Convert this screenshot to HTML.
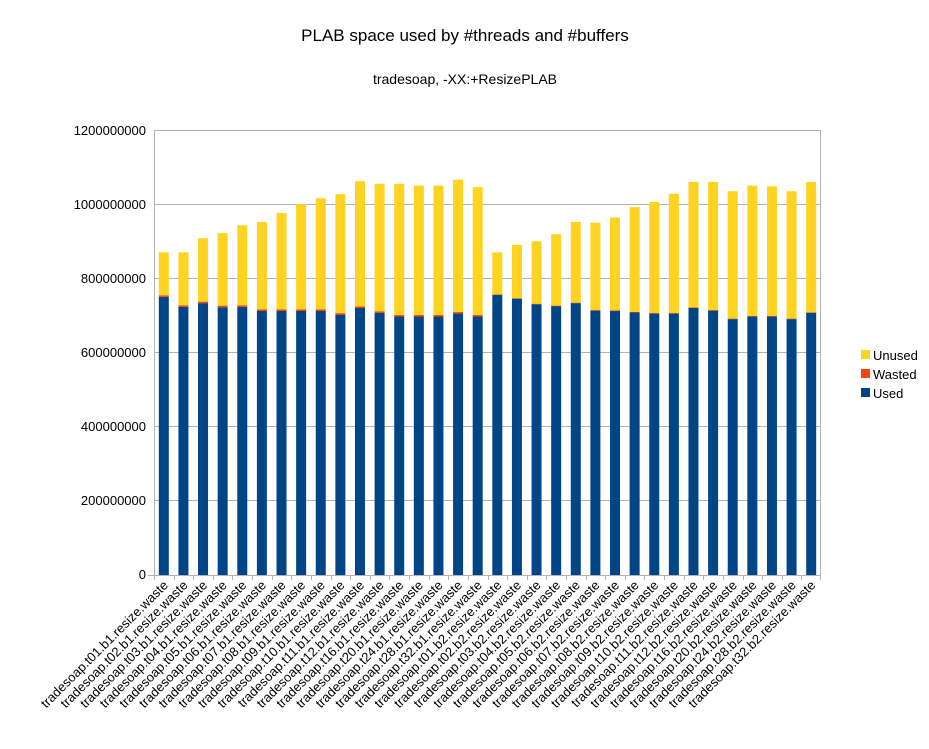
<!DOCTYPE html>
<html><head><meta charset="utf-8"><style>body{margin:0;background:#fff}svg{display:block}text{font-family:"Liberation Sans",sans-serif}</style></head>
<body>
<svg id="s" width="929" height="749" viewBox="0 0 929 749" xmlns="http://www.w3.org/2000/svg">
<rect width="929" height="749" fill="#fff"/>
<text x="465" y="41" font-size="17" text-anchor="middle">PLAB space used by #threads and #buffers</text>
<text x="465" y="84" font-size="14" text-anchor="middle">tradesoap, -XX:+ResizePLAB</text>
<g stroke="#b3b3b3" stroke-width="1">
<line x1="154" y1="130.5" x2="821" y2="130.5"/>
<line x1="154" y1="204.5" x2="821" y2="204.5"/>
<line x1="154" y1="278.5" x2="821" y2="278.5"/>
<line x1="154" y1="352.5" x2="821" y2="352.5"/>
<line x1="154" y1="426.5" x2="821" y2="426.5"/>
<line x1="154" y1="500.5" x2="821" y2="500.5"/>
<line x1="154.5" y1="130" x2="154.5" y2="575"/>
<line x1="820.5" y1="130" x2="820.5" y2="575"/>
</g>
<g font-size="13" text-anchor="end">
<text x="146" y="135">1200000000</text>
<text x="146" y="209">1000000000</text>
<text x="146" y="283">800000000</text>
<text x="146" y="357">600000000</text>
<text x="146" y="431">400000000</text>
<text x="146" y="505">200000000</text>
<text x="146" y="579">0</text>
</g>
<g id="bars"></g>
<g stroke="#b3b3b3" id="ticks"></g>
<line x1="148" y1="575.5" x2="821" y2="575.5" stroke="#b3b3b3"/>
<g font-size="13" text-anchor="end" id="labels">
<text>tradesoap.t01.b1.resize.waste</text><text>tradesoap.t02.b1.resize.waste</text><text>tradesoap.t03.b1.resize.waste</text><text>tradesoap.t04.b1.resize.waste</text><text>tradesoap.t05.b1.resize.waste</text><text>tradesoap.t06.b1.resize.waste</text><text>tradesoap.t07.b1.resize.waste</text><text>tradesoap.t08.b1.resize.waste</text><text>tradesoap.t09.b1.resize.waste</text><text>tradesoap.t10.b1.resize.waste</text><text>tradesoap.t11.b1.resize.waste</text><text>tradesoap.t12.b1.resize.waste</text><text>tradesoap.t16.b1.resize.waste</text><text>tradesoap.t20.b1.resize.waste</text><text>tradesoap.t24.b1.resize.waste</text><text>tradesoap.t28.b1.resize.waste</text><text>tradesoap.t32.b1.resize.waste</text>
<text>tradesoap.t01.b2.resize.waste</text><text>tradesoap.t02.b2.resize.waste</text><text>tradesoap.t03.b2.resize.waste</text><text>tradesoap.t04.b2.resize.waste</text><text>tradesoap.t05.b2.resize.waste</text><text>tradesoap.t06.b2.resize.waste</text><text>tradesoap.t07.b2.resize.waste</text><text>tradesoap.t08.b2.resize.waste</text><text>tradesoap.t09.b2.resize.waste</text><text>tradesoap.t10.b2.resize.waste</text><text>tradesoap.t11.b2.resize.waste</text><text>tradesoap.t12.b2.resize.waste</text><text>tradesoap.t16.b2.resize.waste</text><text>tradesoap.t20.b2.resize.waste</text><text>tradesoap.t24.b2.resize.waste</text><text>tradesoap.t28.b2.resize.waste</text><text>tradesoap.t32.b2.resize.waste</text>
</g>
<rect x="861" y="350" width="9" height="9" fill="#ffd320"/>
<rect x="861" y="369" width="9" height="9" fill="#ff420e"/>
<rect x="861" y="388" width="9" height="9" fill="#004586"/>
<g font-size="13"><text x="873" y="360">Unused</text><text x="873" y="379">Wasted</text><text x="873" y="398">Used</text></g>
</svg>
<script>
var tot=[870,870,908,922,943,952,976,1000,1016,1027,1062,1055,1055,1050,1050,1066,1046,870,890,900,919,952,950,964,992,1006,1028,1060,1060,1035,1050,1048,1060];
tot=[870,870,908,922,943,952,976,1000,1016,1027,1062,1055,1055,1050,1050,1066,1046,870,890,900,919,952,950,964,992,1006,1028,1060,1060,1035,1050,1048,1035,1060];
var used=[750,723,733,722,723,712,712,712,712,702,720,707,697,697,697,705,697,755,745,730,725,733,713,712,708,705,705,720,713,690,697,697,690,707];
var NS="http://www.w3.org/2000/svg",L=154,W=(821-154)/34,Z=575,K=445/1200;
function r(g,x,y,w,h,f){var e=document.createElementNS(NS,"rect");e.setAttribute("x",x);e.setAttribute("y",y);e.setAttribute("width",w);e.setAttribute("height",h);e.setAttribute("fill",f);g.appendChild(e);}
var b=document.getElementById("bars"),t=document.getElementById("ticks"),lb=document.getElementById("labels").children;
for(var i=0;i<34;i++){var cx=L+W*(i+.5),x=cx-5;var w=i<17?4:1.2;
var yu=Z-used[i]*K,yw=yu-w*K,yt=Z-tot[i]*K;
r(b,x,yt,10,yw-yt,"#ffd320");r(b,x,yw,10,yu-yw,"#ff420e");r(b,x,yu,10,Z-yu,"#004586");
var l=document.createElementNS(NS,"line");var tx=Math.round(L+W*i)+.5;l.setAttribute("x1",tx);l.setAttribute("x2",tx);l.setAttribute("y1",575);l.setAttribute("y2",580);t.appendChild(l);
lb[i].setAttribute("transform","translate("+(cx+5)+",586) rotate(-45)");}
var l=document.createElementNS(NS,"line");l.setAttribute("x1",820.5);l.setAttribute("x2",820.5);l.setAttribute("y1",575);l.setAttribute("y2",580);t.appendChild(l);
</script>
</body></html>
